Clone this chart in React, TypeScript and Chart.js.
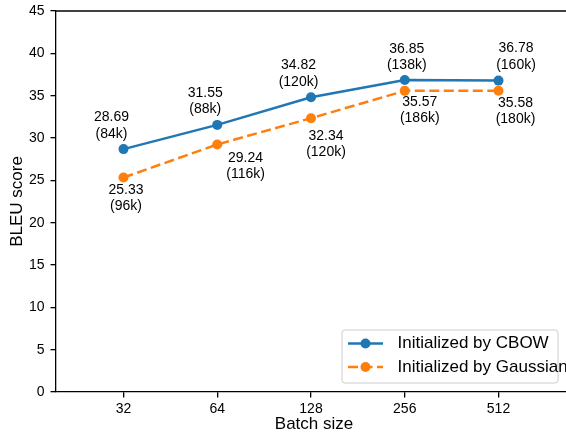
import React, { useEffect, useRef } from "react";
import { Chart, registerables } from "chart.js";

Chart.register(...registerables);

// ---- data ----
const batchSizes = ["32", "64", "128", "256", "512"];
const cbowScores = [28.69, 31.55, 34.82, 36.85, 36.78];
const cbowSteps = ["(84k)", "(88k)", "(120k)", "(138k)", "(160k)"];
const gaussScores = [25.33, 29.24, 32.34, 35.57, 35.58];
const gaussSteps = ["(96k)", "(116k)", "(120k)", "(186k)", "(180k)"];
const seriesNames = ["Initialized by CBOW", "Initialized by Gaussian"];
const yMin = 0;
const yMax = 45;
const yStep = 5;

// ---- annotation offsets (pixels, style only) ----
const cbowLabelDx = [-12, -12, -12.5, 2, 17.5];
const cbowLabelDy = [-31.5, -32, -31.7, -31, -32];
const gaussLabelDx = [2.5, 28.3, 15, 15, 17];
const gaussLabelDy = [12.5, 13.5, 17.5, 11, 12];

const BLUE = "#1f77b4";
const ORANGE = "#ff7f0e";
const FONT = '"Liberation Sans", Arial, Helvetica, sans-serif';
const DASH = [10, 4.5];

const overlayPlugin = {
  id: "overlay",
  afterDatasetsDraw(chart: any) {
    const { ctx, chartArea } = chart;
    ctx.save();
    // top spine
    ctx.strokeStyle = "#000";
    ctx.lineWidth = 1.3;
    ctx.beginPath();
    ctx.moveTo(chartArea.left, chartArea.top);
    ctx.lineTo(chartArea.right, chartArea.top);
    ctx.stroke();

    // point annotations
    ctx.fillStyle = "#000";
    ctx.font = `14px ${FONT}`;
    ctx.textAlign = "center";
    ctx.textBaseline = "middle";
    const drawLabels = (
      dsIndex: number,
      values: number[],
      steps: string[],
      dx: number[],
      dy: number[]
    ) => {
      const meta = chart.getDatasetMeta(dsIndex);
      meta.data.forEach((pt: any, i: number) => {
        const x = pt.x + dx[i];
        const y = pt.y + dy[i];
        ctx.fillText(values[i].toFixed(2), x, y);
        ctx.fillText(steps[i], x, y + 16.5);
      });
    };
    drawLabels(0, cbowScores, cbowSteps, cbowLabelDx, cbowLabelDy);
    drawLabels(1, gaussScores, gaussSteps, gaussLabelDx, gaussLabelDy);

    // legend
    const lx = 342, ly = 330, lw = 216, lh = 53, r = 3;
    ctx.beginPath();
    ctx.moveTo(lx + r, ly);
    ctx.lineTo(lx + lw - r, ly);
    ctx.arcTo(lx + lw, ly, lx + lw, ly + r, r);
    ctx.lineTo(lx + lw, ly + lh - r);
    ctx.arcTo(lx + lw, ly + lh, lx + lw - r, ly + lh, r);
    ctx.lineTo(lx + r, ly + lh);
    ctx.arcTo(lx, ly + lh, lx, ly + lh - r, r);
    ctx.lineTo(lx, ly + r);
    ctx.arcTo(lx, ly, lx + r, ly, r);
    ctx.closePath();
    ctx.fillStyle = "rgba(255,255,255,0.8)";
    ctx.fill();
    ctx.strokeStyle = "#cccccc";
    ctx.lineWidth = 1;
    ctx.stroke();

    const rows = [
      { y: 343.5, color: BLUE, dash: [] as number[], name: seriesNames[0] },
      { y: 367, color: ORANGE, dash: DASH, name: seriesNames[1] },
    ];
    rows.forEach((row) => {
      ctx.strokeStyle = row.color;
      ctx.lineWidth = 2.5;
      ctx.setLineDash(row.dash);
      ctx.beginPath();
      ctx.moveTo(348, row.y);
      ctx.lineTo(383, row.y);
      ctx.stroke();
      ctx.setLineDash([]);
      ctx.fillStyle = row.color;
      ctx.beginPath();
      ctx.arc(365.5, row.y, 5, 0, Math.PI * 2);
      ctx.fill();
      ctx.fillStyle = "#000";
      ctx.font = `17px ${FONT}`;
      ctx.textAlign = "left";
      ctx.textBaseline = "middle";
      ctx.fillText(row.name, 397.5, row.y);
    });

    // axis titles
    ctx.fillStyle = "#000";
    ctx.font = `17px ${FONT}`;
    ctx.textAlign = "center";
    ctx.textBaseline = "middle";
    ctx.fillText("Batch size", 314, 424.5);
    ctx.translate(17, (chartArea.top + chartArea.bottom) / 2);
    ctx.rotate(-Math.PI / 2);
    ctx.fillText("BLEU score", 0, 0);
    ctx.restore();
  },
};

export default function App() {
  const canvasRef = useRef<HTMLCanvasElement | null>(null);

  useEffect(() => {
    if (!canvasRef.current) return;
    const chart = new Chart(canvasRef.current, {
      type: "line",
      data: {
        datasets: [
          {
            label: seriesNames[0],
            data: cbowScores.map((v, i) => ({ x: i, y: v })),
            borderColor: BLUE,
            backgroundColor: BLUE,
            borderWidth: 2.5,
            pointRadius: 5,
            pointBorderWidth: 0,
            pointBackgroundColor: BLUE,
            tension: 0,
          },
          {
            label: seriesNames[1],
            data: gaussScores.map((v, i) => ({ x: i, y: v })),
            borderColor: ORANGE,
            backgroundColor: ORANGE,
            borderWidth: 2.5,
            borderDash: DASH,
            pointRadius: 5,
            pointBorderWidth: 0,
            pointBackgroundColor: ORANGE,
            tension: 0,
          },
        ],
      },
      options: {
        responsive: false,
        animation: false,
        layout: { autoPadding: false, padding: { top: 11, right: 0, left: 0, bottom: 0 } },
        plugins: {
          legend: { display: false },
          tooltip: { enabled: false },
        },
        scales: {
          x: {
            type: "linear",
            min: -0.72,
            max: 4.72,
            afterBuildTicks: (scale: any) => {
              scale.ticks = batchSizes.map((_, i) => ({ value: i }));
            },
            afterFit: (scale: any) => {
              scale.height = 42;
              scale.paddingLeft = 0;
              scale.paddingRight = 0;
            },
            ticks: {
              callback: (v: any) => batchSizes[v] ?? "",
              color: "#000",
              font: { family: FONT, size: 14 },
              padding: 3,
              maxRotation: 0,
              autoSkip: false,
            },
            grid: {
              drawOnChartArea: false,
              tickLength: 5.5,
              color: "#000",
              lineWidth: 1.3,
            },
            border: { display: true, color: "#000", width: 1.3 },
          },
          y: {
            min: yMin,
            max: yMax,
            afterFit: (scale: any) => {
              scale.width = 56;
              scale.paddingTop = 0;
              scale.paddingBottom = 0;
            },
            ticks: {
              stepSize: yStep,
              color: "#000",
              font: { family: FONT, size: 14 },
              padding: 6,
            },
            grid: {
              drawOnChartArea: false,
              tickLength: 5.5,
              color: "#000",
              lineWidth: 1.3,
            },
            border: { display: true, color: "#000", width: 1.3 },
          },
        },
      },
      plugins: [overlayPlugin],
    } as any);
    return () => chart.destroy();
  }, []);

  return (
    <div
      style={{
        position: "fixed",
        left: 0,
        top: 0,
        width: 566,
        height: 434,
        background: "#fff",
        overflow: "hidden",
      }}
    >
      <canvas ref={canvasRef} width={566} height={434} style={{ display: "block" }} />
    </div>
  );
}
